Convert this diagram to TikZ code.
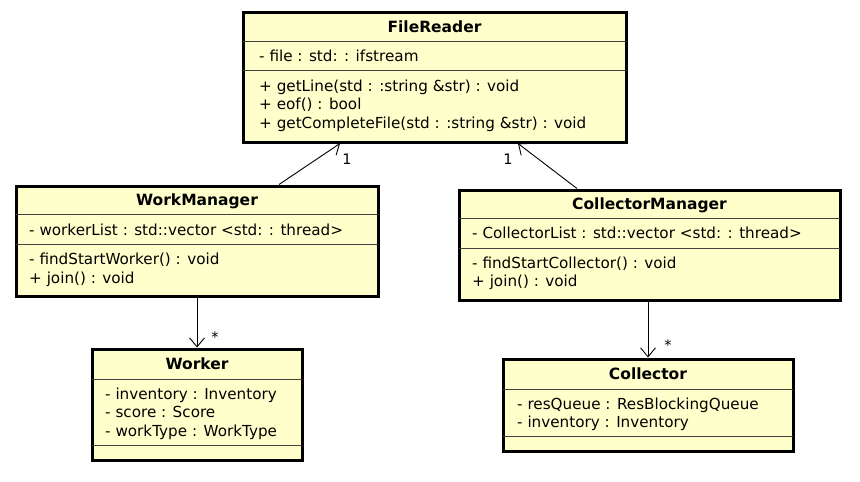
\documentclass[tikz,border=0pt]{standalone}
\usepackage{fontspec}
\setmainfont{DejaVu Sans}
\usetikzlibrary{arrows.meta}
\definecolor{classfill}{HTML}{FFFFCC}
\tikzset{
  classbox/.style={draw, line width=3pt, fill=classfill},
  classname/.style={font=\bfseries\fontsize{15.5}{18}\selectfont},
  member/.style={anchor=west, inner sep=0pt, text height=11pt, text depth=3pt, font=\fontsize{15.2}{17}\selectfont},
  divider/.style={draw=black!75, line width=0.9pt},
  assoc/.style={draw, line width=0.9pt, -{Straight Barb[length=9pt,width=15pt]}},
  mult/.style={font=\fontsize{14.5}{17}\selectfont, inner sep=0pt}
}
\begin{document}
\begin{tikzpicture}[x=1pt,y=-1pt]
  \useasboundingbox (0,0) rectangle (860,482);
  % FileReader
  \node[classbox, minimum width=383pt, minimum height=130pt] (filereader) at (434.5,77) {};
  \node[classname] (frname) at (434.5,27) {FileReader};
  \draw[divider] (243,41.7) -- (626,41.7);
  \draw[divider] (243,70.7) -- (626,70.7);
  \node[member] (frfile) at (259,57) {- file : std: : ifstream};
  \node[member] (frline) at (259,87) {+ getLine(std : :string \&str) : void};
  \node[member] (freof) at (259,105.5) {+ eof() : bool};
  \node[member] (frall) at (259,124) {+ getCompleteFile(std : :string \&str) : void};
  % WorkManager
  \node[classbox, minimum width=362pt, minimum height=110pt] (workmgr) at (197,241) {};
  \node[classname] (wmname) at (197,201) {WorkManager};
  \draw[divider] (16,214.5) -- (378,214.5);
  \draw[divider] (16,244) -- (378,244);
  \node[member] (wmlist) at (29,231.5) {- workerList : std::vector <std: : thread>};
  \node[member] (wmfind) at (29,260.5) {- findStartWorker() : void};
  \node[member] (wmjoin) at (29,279) {+ join() : void};
  % Worker
  \node[classbox, minimum width=210pt, minimum height=111pt] (worker) at (197,404.5) {};
  \node[classname] (wkname) at (197,364) {Worker};
  \draw[divider] (92,379) -- (302,379);
  \draw[divider] (92,445.5) -- (302,445.5);
  \node[member] (wkinv) at (105,395) {- inventory : Inventory};
  \node[member] (wkscore) at (105,413.5) {- score : Score};
  \node[member] (wktype) at (105,432) {- workType : WorkType};
  % CollectorManager
  \node[classbox, minimum width=381pt, minimum height=110pt] (collmgr) at (649.5,245) {};
  \node[classname] (cmname) at (649.5,205) {CollectorManager};
  \draw[divider] (459,218) -- (840,218);
  \draw[divider] (459,248) -- (840,248);
  \node[member] (cmlist) at (472,234.5) {- CollectorList : std::vector <std: : thread>};
  \node[member] (cmfind) at (472,264.5) {- findStartCollector() : void};
  \node[member] (cmjoin) at (472,282.5) {+ join() : void};
  % Collector
  \node[classbox, minimum width=290pt, minimum height=92pt] (collector) at (648,405) {};
  \node[classname] (clname) at (648,374) {Collector};
  \draw[divider] (503,389) -- (793,389);
  \draw[divider] (503,436.5) -- (793,436.5);
  \node[member] (clqueue) at (517,405) {- resQueue : ResBlockingQueue};
  \node[member] (clinv) at (517,423) {- inventory : Inventory};
  % associations
  \draw[assoc] (workmgr.north -| 279,0) -- (filereader.south -| 340,0);
  \draw[assoc] (collmgr.north -| 577,0) -- (filereader.south -| 518,0);
  \draw[assoc] (workmgr.south) -- (worker.north);
  \draw[assoc] (collmgr.south -| collector.north) -- (collector.north);
  \node[mult] (m1) at (347,159) {1};
  \node[mult] (m2) at (508,159) {1};
  \node[mult] (m3) at (215,337) {*};
  \node[mult] (m4) at (668,345) {*};
\end{tikzpicture}
\end{document}
